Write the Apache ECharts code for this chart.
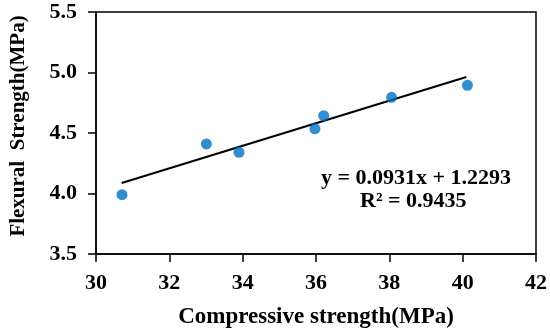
<!DOCTYPE html>
<html><head><meta charset="utf-8">
<script src="https://cdn.jsdelivr.net/npm/echarts@6/dist/echarts.min.js"></script>
<style>html,body{margin:0;padding:0;background:#fff}#c{width:550px;height:333px}</style>
</head><body><div id="c"></div>
<script>
var compressive = [30.71, 33.01, 33.9, 35.97, 36.21, 38.06, 40.13];
var flexural = [3.99, 4.41, 4.34, 4.535, 4.643, 4.795, 4.894];
var trendX = [30.7, 40.1];
var trendY = [4.087, 4.963];
var xTicks = [30, 32, 34, 36, 38, 40, 42];
var yTicks = [3.5, 4.0, 4.5, 5.0, 5.5];
var xTitle = 'Compressive strength(MPa)';
var yTitle = 'Flexural  Strength(MPa)';
var eqText = 'y = 0.0931x + 1.2293';
var r2Text = 'R² = 0.9435';

var font = 'Liberation Serif';
var chart = echarts.init(document.getElementById('c'), null, {renderer: 'canvas'});
chart.setOption({
  animation: false,
  grid: {left: 96, top: 12, right: 14, bottom: 79, show: true, borderColor: '#000', borderWidth: 1.5,
    containLabel: false, outerBoundsMode: 'none'},
  xAxis: {
    type: 'value', min: xTicks[0], max: xTicks[xTicks.length - 1], interval: 2,
    axisLine: {show: true, onZero: false, lineStyle: {color: '#000', width: 1.5}},
    axisTick: {show: true, length: 8, lineStyle: {color: '#000', width: 1.5}},
    splitLine: {show: false},
    axisLabel: {color: '#000', fontFamily: font, fontWeight: 'bold', fontSize: 22, margin: 18},
    name: xTitle, nameLocation: 'middle', nameGap: 52,
    nameTextStyle: {color: '#000', fontFamily: font, fontWeight: 'bold', fontSize: 23}
  },
  yAxis: {
    type: 'value', min: yTicks[0], max: yTicks[yTicks.length - 1], interval: 0.5,
    axisLine: {show: true, onZero: false, lineStyle: {color: '#000', width: 1.5}},
    axisTick: {show: true, length: 8, lineStyle: {color: '#000', width: 1.5}},
    splitLine: {show: false},
    axisLabel: {color: '#000', fontFamily: font, fontWeight: 'bold', fontSize: 22, margin: 19,
      formatter: function (v) { return v.toFixed(1); }}
  },
  series: [
    {type: 'line', data: trendX.map(function (x, i) { return [x, trendY[i]]; }),
      symbol: 'none', lineStyle: {color: '#000', width: 2.2}, z: 2},
    {type: 'scatter', data: compressive.map(function (x, i) { return [x, flexural[i]]; }),
      symbolSize: 11, itemStyle: {color: '#0072c6'}, z: 3}
  ],
  graphic: [
    {type: 'text', x: 19, y: 126, rotation: Math.PI / 2,
      style: {text: yTitle, fill: '#000', font: 'bold 21px "Liberation Serif"', align: 'center', verticalAlign: 'middle'}},
    {type: 'text', left: 321, top: 167, style: {text: eqText, fill: '#000', font: 'bold 22px "Liberation Serif"'}},
    {type: 'text', left: 360, top: 190, style: {text: r2Text, fill: '#000', font: 'bold 22px "Liberation Serif"'}}
  ]
});
</script></body></html>
